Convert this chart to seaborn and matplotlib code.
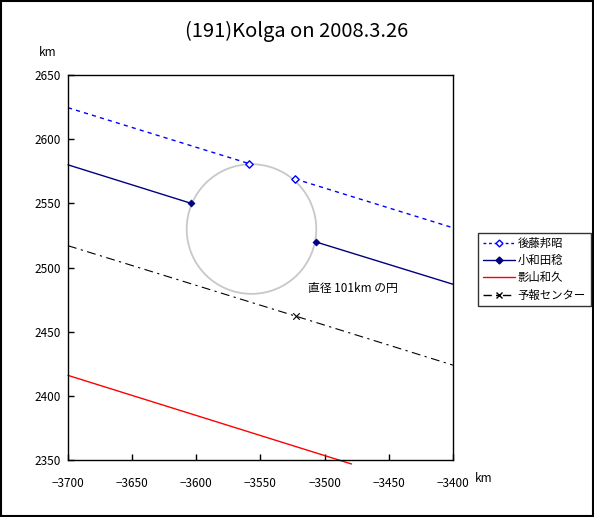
import matplotlib
matplotlib.use("Agg")
import matplotlib.pyplot as plt
from matplotlib.patches import Circle, Rectangle
from matplotlib.lines import Line2D
import seaborn as sns

# observer chords (km), gaps are the occulted parts
goto_x = [-3700, -3559, -3523, -3400]
goto_y = [2624.5, 2581, 2569, 2531]
owada_x = [-3700, -3604, -3507, -3400]
owada_y = [2580, 2550, 2520, 2487]
kage_x = [-3700, -3479]
kage_y = [2416, 2347]
pred_x = [-3700, -3522, -3400]
pred_y = [2517, 2462, 2424]

circle_center = (-3557, 2530)
circle_diam = 101

labels = ["後藤邦昭", "小和田稔", "影山和久", "予報センター"]
x_ticks = [-3700, -3650, -3600, -3550, -3500, -3450, -3400]
y_ticks = [2350, 2400, 2450, 2500, 2550, 2600, 2650]

sns.set_theme(style="white")
plt.rcParams["font.family"] = ["Noto Sans CJK JP", "DejaVu Sans"]
plt.rcParams["text.color"] = "black"
plt.rcParams["xtick.color"] = "black"
plt.rcParams["ytick.color"] = "black"

fig = plt.figure(figsize=(5.94, 5.17), dpi=100)
ax = fig.add_axes([0.1145, 0.110, 0.648, 0.745])

blue = "#0000FF"
navy = "#000080"

# 後藤邦昭
sns.lineplot(x=goto_x[:2], y=goto_y[:2], ax=ax, color=blue, lw=1, linestyle=(0, (3, 3)), clip_on=False)
sns.lineplot(x=goto_x[2:], y=goto_y[2:], ax=ax, color=blue, lw=1, linestyle=(0, (3, 3)), clip_on=False)
sns.scatterplot(x=goto_x[1:3], y=goto_y[1:3], ax=ax, marker="D", s=14,
                facecolor="white", edgecolor=blue, linewidth=1, zorder=5)

# 小和田稔
sns.lineplot(x=owada_x[:2], y=owada_y[:2], ax=ax, color=navy, lw=1, clip_on=False)
sns.lineplot(x=owada_x[2:], y=owada_y[2:], ax=ax, color=navy, lw=1, clip_on=False)
sns.scatterplot(x=owada_x[1:3], y=owada_y[1:3], ax=ax, marker="D", s=14,
                color=navy, edgecolor=navy, zorder=5)

# 影山和久
sns.lineplot(x=kage_x, y=kage_y, ax=ax, color="red", lw=1, clip_on=False)

# 予報センター
sns.lineplot(x=pred_x, y=pred_y, ax=ax, color="black", lw=0.8,
             linestyle=(0, (8, 4, 2, 4)), clip_on=False)
sns.scatterplot(x=pred_x[1:2], y=pred_y[1:2], ax=ax, marker="x", s=22,
                color="black", linewidth=0.8, zorder=5)

ax.add_patch(Circle(circle_center, circle_diam / 2, fill=False,
                    edgecolor="#C8C8C8", lw=1.3, zorder=1))
ax.text(-3513, 2484, f"直径 {circle_diam}km の円", fontsize=8.5, ha="left", va="center")

ax.set_xlim(-3700, -3400)
ax.set_ylim(2350, 2650)
ax.set_xticks(x_ticks)
ax.set_yticks(y_ticks)
ax.set_xticklabels([f"{v}".replace("-", "\u2212") for v in x_ticks])
ax.tick_params(direction="in", length=4, width=1, colors="black", labelsize=8.5, pad=5,
               bottom=True, left=True)
ax.tick_params(axis="x", pad=12)
for sp in ax.spines.values():
    sp.set_color("black")
    sp.set_linewidth(1)
ax.set_xlabel("")
ax.set_ylabel("")

fig.suptitle("(191)Kolga on 2008.3.26", x=0.5, y=0.94, fontsize=14.5, va="center")
fig.text(48 / 594, 1 - 53 / 517, "km", fontsize=8.5, ha="center", va="center")
fig.text(484 / 594, 1 - 479 / 517, "km", fontsize=8.5, ha="center", va="center")

handles = [
    Line2D([], [], color=blue, lw=1, linestyle=(0, (2, 2)), marker="D", ms=3.5,
           markerfacecolor="white", markeredgecolor=blue),
    Line2D([], [], color=navy, lw=1, marker="D", ms=3.5, markerfacecolor=navy),
    Line2D([], [], color="red", lw=1),
    Line2D([], [], color="black", lw=1, linestyle=(0, (6, 3, 2, 3)), marker="x", ms=5),
]
leg = fig.legend(handles, labels, loc="upper left", bbox_to_anchor=(0.804, 0.55),
                 fontsize=8.2, frameon=True, fancybox=False, borderpad=0.45,
                 handlelength=2.8, handletextpad=0.25, labelspacing=0.55, borderaxespad=0)
leg.get_frame().set_edgecolor("black")
leg.get_frame().set_linewidth(1)

fig.patches.append(Rectangle((0.002, 0.002), 0.996, 0.996, transform=fig.transFigure,
                             fill=False, edgecolor="black", lw=1.5))

fig.savefig("out.png", dpi=100)
